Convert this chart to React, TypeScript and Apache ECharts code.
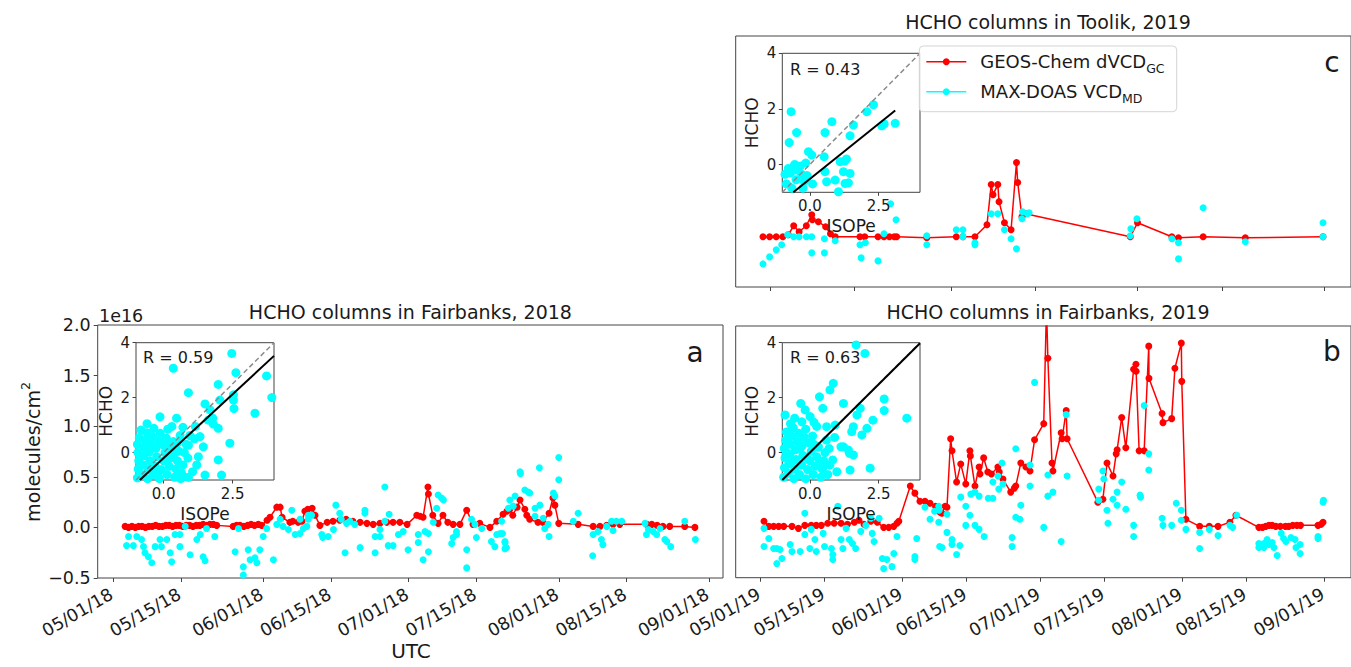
import React, { useEffect, useRef } from "react";
import * as echarts from "echarts";

// ---------------- DATA (days since May 1, values in 1e16 molecules/cm2) ----------------
const TICK_DAYS_AB = [0, 14, 31, 45, 61, 75, 92, 106, 123];
const TICK_LABELS_A = ["05/01/18", "05/15/18", "06/01/18", "06/15/18", "07/01/18", "07/15/18", "08/01/18", "08/15/18", "09/01/18"];
const TICK_LABELS_B = ["05/01/19", "05/15/19", "06/01/19", "06/15/19", "07/01/19", "07/15/19", "08/01/19", "08/15/19", "09/01/19"];
const TICK_DAYS_C = [31, 45, 61, 75, 92, 106, 123];
const INSET_X_TICKS = [0, 2.5];
const INSET_Y_TICKS = [0, 2, 4];

const TITLES = ["HCHO columns in Fairbanks, 2018", "HCHO columns in Fairbanks, 2019", "HCHO columns in Toolik, 2019"];
const PANEL_LETTERS = ["a", "b", "c"];
const R_LABELS = ["R = 0.59", "R = 0.63", "R = 0.43"];
const SERIES_NAMES = ["GEOS-Chem dVCD", "MAX-DOAS VCD"];
const SERIES_SUBS = ["GC", "MD"];

const RED_A = [[2.5,0.01],[3.2,0.0],[3.9,0.01],[4.6,0.0],[5.3,0.01],[6.0,0.01],[6.7,0.0],[7.4,0.01],[8.1,0.01],[8.8,0.02],[9.5,0.01],[10.2,0.01],[10.9,0.02],[11.6,0.02],[12.3,0.01],[13.0,0.02],[13.7,0.02],[14.4,0.01],[15.1,0.02],[15.8,0.02],[16.5,0.01],[17.2,0.02],[17.9,0.02],[18.6,0.03],[19.3,0.02],[20.0,0.03],[20.7,0.03],[21.4,0.02],[24.8,0.01],[25.5,0.02],[26.2,0.02],[27.0,0.01],[27.8,0.02],[28.5,0.03],[29.2,0.02],[30.0,0.03],[30.7,0.02],[31.8,0.07],[32.4,0.1],[33.8,0.2],[34.5,0.2],[34.9,0.1],[36.5,0.05],[37.1,0.06],[38.2,0.05],[39.0,0.06],[39.6,0.16],[40.2,0.18],[41.1,0.19],[41.7,0.12],[42.7,0.02],[44.2,0.05],[45.4,0.06],[46.8,0.07],[48.1,0.08],[49.5,0.06],[51.0,0.05],[52.4,0.04],[53.7,0.03],[55.1,0.04],[56.5,0.05],[57.8,0.05],[59.2,0.05],[60.7,0.03],[62.7,0.12],[63.4,0.11],[64.0,0.1],[65.0,0.4],[65.1,0.33],[66.0,0.12],[67.1,0.04],[68.1,0.12],[69.1,0.05],[70.2,0.03],[71.6,0.03],[73.0,0.17],[74.3,0.03],[75.7,0.04],[77.8,0.0],[79.2,0.06],[80.5,0.13],[81.3,0.16],[81.9,0.18],[82.5,0.12],[83.4,0.2],[84.0,0.27],[85.0,0.18],[85.4,0.12],[86.0,0.08],[87.7,0.05],[88.7,0.05],[90.0,0.14],[90.8,0.29],[91.2,0.22],[92.0,0.04],[96.0,0.03],[99.1,0.01],[100.5,0.01],[101.9,0.02],[103.2,0.03],[104.6,0.03],[110.2,0.03],[111.2,0.03],[112.3,0.02],[113.5,0.01],[114.9,0.01],[118.0,0.01],[120.1,0.0]];

const CYAN_A = [[3.2,-0.09],[4.9,-0.09],[2.8,-0.18],[4.2,-0.18],[5.9,-0.12],[6.3,-0.19],[6.6,-0.25],[7.3,-0.29],[8.0,-0.35],[8.7,-0.19],[9.7,-0.12],[10.0,-0.19],[11.1,-0.12],[11.8,-0.25],[12.1,-0.34],[12.8,-0.07],[13.8,-0.07],[13.8,-0.19],[14.9,0.01],[15.9,-0.27],[17.3,-0.12],[18.0,-0.07],[18.6,-0.29],[19.0,-0.33],[19.3,-0.01],[21.0,-0.09],[25.2,-0.24],[25.9,-0.01],[26.9,-0.39],[26.9,-0.47],[27.9,-0.22],[28.3,-0.32],[29.3,-0.3],[29.7,-0.35],[30.3,-0.22],[31.0,-0.09],[31.7,-0.01],[33.1,-0.32],[33.8,0.03],[34.5,0.08],[35.1,0.01],[36.2,-0.02],[36.9,0.17],[37.6,-0.07],[38.6,0.08],[39.3,-0.01],[40.3,0.08],[38.6,-0.06],[40.0,0.01],[40.3,0.12],[41.0,0.12],[43.1,-0.07],[43.3,-0.1],[44.4,-0.09],[45.5,-0.02],[46.0,0.22],[46.8,0.14],[47.1,0.08],[47.9,-0.25],[48.2,0.04],[48.9,0.06],[49.9,0.03],[51.0,-0.2],[52.0,0.17],[52.0,0.14],[54.1,-0.09],[54.1,-0.25],[55.1,-0.02],[55.1,-0.09],[56.1,0.4],[56.1,0.06],[56.8,-0.18],[57.0,0.13],[57.8,-0.18],[58.9,-0.07],[59.9,-0.04],[60.9,-0.22],[63.0,-0.07],[63.0,-0.15],[64.0,-0.32],[64.4,-0.04],[65.1,-0.06],[65.1,-0.24],[66.1,0.05],[66.8,0.19],[67.1,0.32],[67.8,0.29],[68.2,0.27],[69.9,-0.16],[70.2,-0.1],[70.9,-0.04],[70.9,-0.07],[73.0,-0.22],[73.0,-0.4],[74.0,0.08],[74.7,0.03],[75.0,-0.1],[76.1,-0.01],[78.1,-0.14],[78.8,-0.19],[79.2,-0.07],[79.9,-0.06],[80.2,0.06],[80.9,-0.14],[81.2,-0.2],[81.6,0.19],[80.4,-0.06],[80.9,-0.15],[80.9,-0.21],[81.9,0.27],[82.6,0.21],[83.0,0.31],[84.0,0.55],[84.1,0.53],[85.0,0.37],[85.7,0.35],[86.0,0.34],[87.1,0.19],[87.1,0.11],[88.0,0.59],[88.1,0.22],[88.8,0.09],[89.1,-0.01],[89.8,0.03],[90.0,-0.09],[90.9,0.34],[91.2,0.31],[92.0,0.47],[92.0,0.69],[95.0,0.06],[96.0,0.14],[99.1,-0.07],[99.0,-0.28],[100.1,-0.04],[100.8,-0.12],[101.1,-0.17],[101.9,0.01],[102.9,0.06],[103.2,-0.03],[103.9,0.06],[105.0,0.06],[109.8,0.04],[110.1,-0.07],[110.5,-0.02],[111.5,-0.04],[112.2,-0.07],[112.9,-0.01],[113.9,-0.12],[114.3,-0.14],[115.1,-0.19],[118.0,0.06],[120.2,-0.12]];

const RED_B = [[0.8,0.06],[1.85,0.01],[2.9,0.01],[4.0,0.01],[5.1,0.01],[6.9,0.01],[8.3,-0.01],[9.7,0.02],[11.1,0.02],[12.2,0.02],[13.3,0.02],[14.7,0.04],[16.1,0.04],[17.6,0.04],[19.0,0.03],[20.5,0.05],[21.5,0.07],[22.6,0.03],[24.1,0.06],[25.5,0.05],[26.9,0.0],[28.0,0.0],[29.1,0.01],[29.8,0.04],[30.2,0.06],[32.7,0.41],[33.7,0.34],[34.8,0.26],[35.9,0.26],[37.0,0.24],[38.2,0.21],[39.2,0.15],[39.6,0.14],[40.3,0.21],[40.7,0.2],[41.5,0.88],[41.8,0.76],[42.8,0.45],[43.7,0.63],[44.8,0.43],[45.7,0.76],[45.8,0.71],[46.8,0.41],[47.7,0.6],[47.9,0.53],[48.7,0.69],[49.6,0.55],[50.4,0.53],[51.8,0.6],[52.1,0.55],[52.9,0.48],[54.6,0.35],[55.4,0.39],[55.7,0.41],[56.8,0.64],[57.9,0.6],[58.8,0.56],[59.8,0.87],[61.8,1.03],[62.4,2.2],[62.7,1.68],[63.6,0.64],[63.8,0.56],[65.6,0.94],[65.8,0.88],[66.7,1.16],[66.9,0.88],[73.6,0.25],[74.7,0.28],[75.6,0.64],[76.9,0.51],[77.6,0.73],[77.8,0.77],[78.8,1.09],[79.7,0.79],[81.4,1.57],[81.9,1.62],[81.95,1.55],[82.6,0.76],[83.7,0.76],[84.7,1.8],[84.75,1.48],[87.6,1.13],[87.8,1.04],[89.7,1.08],[90.4,1.58],[91.8,1.83],[91.9,1.45],[92.8,0.08],[95.8,0.01],[97.9,0.01],[99.8,0.01],[102.4,0.05],[103.7,0.12],[108.7,0.0],[109.5,0.0],[110.2,0.01],[110.9,0.02],[111.6,0.02],[112.4,0.01],[113.4,0.01],[114.5,0.01],[115.2,0.01],[116.1,0.02],[117.0,0.02],[117.8,0.02],[121.6,0.02],[122.3,0.03],[122.7,0.05]];

const CYAN_B = [[0.8,-0.01],[0.8,-0.19],[1.85,-0.11],[2.9,-0.21],[3.6,-0.21],[4.3,-0.22],[3.6,-0.36],[4.7,-0.31],[6.5,-0.17],[6.9,-0.24],[8.7,-0.24],[9.7,0.14],[9.7,-0.07],[11.1,-0.02],[10.8,-0.21],[11.9,-0.12],[12.2,-0.24],[13.7,-0.06],[14.0,-0.19],[15.5,-0.21],[15.8,-0.27],[15.8,-0.32],[16.9,0.21],[17.6,-0.12],[18.0,-0.21],[18.7,-0.01],[19.4,-0.12],[20.1,-0.16],[20.8,-0.21],[21.9,-0.04],[23.0,0.02],[24.1,0.09],[24.4,-0.06],[24.8,-0.14],[25.9,0.09],[26.6,-0.31],[26.9,-0.41],[27.6,-0.32],[28.7,-0.39],[29.1,-0.26],[29.8,-0.09],[34.1,-0.11],[33.7,-0.29],[33.7,-0.32],[35.9,0.2],[37.0,0.08],[38.0,0.16],[39.0,0.17],[39.1,-0.19],[38.9,0.21],[38.9,0.05],[40.7,0.13],[40.7,-0.05],[41.8,-0.12],[39.6,-0.2],[41.8,-0.17],[42.8,-0.27],[43.5,-0.18],[43.7,0.3],[44.8,0.21],[44.8,0.02],[45.7,0.12],[45.9,0.33],[46.8,0.35],[46.8,0.02],[47.7,0.31],[47.7,-0.02],[48.8,-0.09],[49.7,0.29],[50.7,0.29],[50.7,0.45],[51.8,0.51],[52.0,0.38],[52.7,0.64],[52.9,0.43],[54.9,-0.1],[54.9,-0.19],[55.7,0.78],[55.7,0.1],[56.6,0.08],[56.8,0.22],[58.8,0.62],[58.8,0.41],[59.8,1.44],[61.8,0.0],[62.7,0.52],[62.7,0.31],[63.8,0.35],[65.6,-0.14],[66.7,1.12],[66.9,0.51],[73.8,0.38],[73.8,0.27],[74.7,0.56],[74.9,0.48],[75.6,0.17],[75.8,0.04],[76.9,0.28],[77.8,0.35],[77.8,0.22],[78.8,0.45],[79.7,0.18],[81.4,0.02],[81.4,-0.09],[83.7,1.21],[84.7,0.73],[84.7,0.57],[82.8,0.32],[82.9,0.3],[87.6,0.09],[87.8,0.02],[89.7,0.02],[90.7,0.24],[91.8,0.17],[91.8,0.07],[92.8,-0.02],[95.8,-0.05],[95.8,-0.21],[97.9,-0.02],[99.8,-0.08],[102.4,0.02],[103.0,0.0],[103.9,0.12],[108.7,-0.16],[108.7,-0.2],[109.8,-0.16],[109.8,-0.2],[110.5,-0.12],[110.9,-0.17],[111.6,-0.15],[112.0,-0.2],[112.7,-0.28],[113.6,-0.06],[114.1,-0.11],[114.6,-0.14],[115.7,-0.1],[116.6,-0.12],[116.8,-0.2],[117.7,-0.17],[117.7,-0.26],[121.6,-0.09],[121.6,-0.11],[122.7,0.25],[122.8,0.27]];

const RED_C = [[29.8,0.0],[30.9,0.0],[32.0,0.0],[33.1,0.0],[34.0,0.02],[34.9,0.11],[35.8,0.05],[37.0,0.11],[37.9,0.22],[38.0,0.17],[39.0,0.15],[40.2,0.1],[41.0,0.03],[41.8,0.0],[45.9,0.0],[46.7,0.0],[48.9,0.0],[49.9,0.0],[50.8,0.0],[51.6,0.0],[52.0,0.0],[57.0,-0.01],[61.9,0.0],[63.0,0.0],[65.0,0.0],[67.0,0.12],[67.7,0.52],[68.0,0.42],[68.8,0.52],[69.0,0.35],[69.9,0.14],[71.0,0.07],[71.9,0.74],[72.1,0.54],[72.8,0.2],[73.4,0.23],[90.8,0.0],[92.0,0.14],[97.7,0.0],[98.8,-0.01],[102.9,0.0],[109.9,-0.01],[122.8,0.0]];

const CYAN_C = [[29.8,-0.27],[30.9,-0.2],[32.0,-0.13],[32.9,-0.08],[33.9,0.02],[34.9,0.0],[35.8,0.0],[37.0,0.0],[37.9,0.0],[37.9,-0.16],[40.0,-0.02],[40.0,-0.16],[41.8,-0.04],[45.9,-0.08],[46.1,-0.21],[46.8,-0.06],[48.9,-0.24],[49.9,0.03],[51.0,0.33],[51.9,0.17],[57.0,0.01],[57.0,-0.08],[61.9,0.07],[63.0,0.07],[63.0,0.0],[65.0,-0.06],[65.0,-0.08],[67.7,0.23],[68.8,0.23],[69.9,0.07],[71.0,-0.02],[71.9,-0.12],[72.8,0.18],[72.9,0.25],[74.0,0.24],[73.7,0.23],[90.8,0.01],[90.9,0.08],[91.9,0.18],[97.7,-0.02],[98.8,-0.06],[98.8,-0.22],[102.9,0.29],[109.9,-0.05],[122.8,0.14],[122.8,0.0]];

// inset scatter: [ISOPe, HCHO]
const INSET_A = [[-0.95,-0.92],[-0.92,-0.6],[-0.9,-0.3],[-0.93,0.0],[-0.95,0.3],[-0.88,0.55],[-0.82,0.82],[-0.78,-0.8],[-0.75,-0.45],[-0.72,-0.12],[-0.7,0.18],[-0.66,0.45],[-0.6,0.72],[-0.58,-0.95],[-0.55,-0.62],[-0.5,-0.3],[-0.52,0.02],[-0.45,0.3],[-0.4,0.58],[-0.35,0.88],[-0.38,-0.8],[-0.3,-0.5],[-0.25,-0.15],[-0.28,0.15],[-0.18,0.42],[-0.12,0.7],[-0.15,-0.95],[-0.08,-0.62],[0.0,-0.3],[0.05,0.0],[-0.02,0.28],[0.1,0.52],[0.15,0.85],[0.12,-0.8],[0.2,-0.5],[0.25,-0.2],[0.3,0.1],[0.35,0.4],[0.4,-0.9],[0.45,-0.6],[0.5,-0.3],[0.55,0.05],[0.5,0.35],[0.6,0.62],[0.65,-0.75],[0.7,-0.45],[0.75,0.0],[0.82,0.3],[0.9,-0.9],[-0.6,1.05],[-0.13,1.3],[0.47,1.25],[0.3,0.95],[0.88,-0.2],[0.95,0.62],[0.7,0.92],[-0.85,-0.15],[-0.35,-0.68],[0.18,0.22],[-0.62,0.3],[-0.2,-0.85],[0.38,-0.05],[0.35,3.07],[0.9,2.18],[1.98,2.48],[2.47,3.61],[2.62,2.91],[3.73,2.79],[3.92,2.0],[3.31,1.43],[2.53,1.91],[2.53,2.1],[1.5,1.77],[1.68,1.55],[2.04,1.91],[1.62,1.18],[1.8,1.04],[1.98,0.88],[1.32,0.58],[1.44,0.21],[1.26,-0.15],[1.98,-0.27],[1.5,-0.82],[2.1,-0.82],[2.4,0.34],[0.9,0.27],[1.12,0.5],[1.2,-0.45],[1.05,-0.7],[0.62,-0.95],[1.78,1.25],[2.55,1.6],[1.15,0.95]];

const INSET_B = [[-0.95,-0.9],[-0.92,-0.55],[-0.9,-0.2],[-0.93,0.15],[-0.88,0.45],[-0.85,0.75],[-0.78,-0.75],[-0.75,-0.4],[-0.72,-0.05],[-0.7,0.3],[-0.65,0.6],[-0.6,0.9],[-0.58,-0.95],[-0.55,-0.6],[-0.5,-0.25],[-0.52,0.1],[-0.45,0.4],[-0.4,0.7],[-0.38,-0.8],[-0.3,-0.45],[-0.25,-0.1],[-0.28,0.25],[-0.2,0.55],[-0.15,0.85],[-0.15,-0.95],[-0.08,-0.62],[0.0,-0.3],[0.05,0.05],[-0.02,0.35],[0.1,0.6],[0.12,-0.8],[0.2,-0.5],[0.25,-0.15],[0.3,0.2],[0.4,-0.9],[0.45,-0.6],[0.5,-0.3],[0.55,0.0],[0.6,0.45],[0.65,-0.8],[0.7,0.15],[-0.85,0.0],[-0.6,-0.3],[-0.35,0.15],[0.15,0.3],[-0.1,-0.2],[0.35,-0.35],[-0.7,1.05],[0.25,0.95],[0.15,1.1],[-0.55,1.25],[0.9,0.55],[0.83,-0.27],[1.13,0.21],[1.44,-0.03],[1.68,3.92],[2.0,3.61],[0.85,2.52],[0.73,2.28],[0.35,2.03],[0.47,1.61],[-0.33,1.79],[-0.17,1.55],[0.01,1.31],[1.22,1.79],[1.83,1.61],[1.71,1.37],[2.7,1.95],[2.7,1.53],[3.52,1.25],[2.29,1.18],[2.07,0.88],[1.89,0.64],[1.58,0.94],[1.52,0.76],[0.92,1.0],[0.61,0.94],[1.22,0.21],[1.4,0.09],[1.58,-0.09],[1.46,-0.64],[2.19,-0.57],[0.98,-0.7],[0.73,-0.45],[0.49,-0.52],[0.31,0.21],[-0.29,1.12],[-0.78,0.76],[-0.9,1.37]];

const INSET_C = [[-0.68,1.9],[-0.75,0.79],[-0.48,1.15],[-0.78,-0.14],[-0.9,-0.35],[-0.7,-0.3],[-0.6,-0.1],[-0.55,0.0],[-0.45,-0.2],[-0.35,-0.05],[-0.3,-0.35],[-0.2,-0.6],[-0.15,0.05],[-0.5,-0.55],[-0.85,-0.7],[-0.65,-0.85],[-0.05,0.46],[0.07,0.34],[0.52,0.28],[0.55,1.15],[0.8,1.54],[1.46,1.03],[1.58,1.42],[2.07,1.9],[2.31,2.15],[2.61,1.39],[2.7,1.46],[3.1,1.48],[0.55,-0.26],[0.61,-0.62],[0.92,-0.56],[1.1,0.1],[1.26,0.12],[1.33,0.2],[1.22,-0.26],[1.46,-0.32],[1.28,-0.68],[1.4,-0.66],[1.04,-0.98],[-0.1,-0.4],[0.1,-0.7],[-0.25,-0.85]];

const ONE_TO_ONE = [[-1, -1], [4, 4]];
const FIT_A = [[-0.86, -1], [4, 3.52]];
const FIT_B = [[-1, -1], [4, 3.98]];
const FIT_C = [[-0.6, -1], [3.1, 1.94]];

// ---------------- STYLE ----------------
const FONT = '"DejaVu Sans", "Liberation Sans", sans-serif';
const TXT = "#1a1a1a";
const RED = "#ff0000";
const CYAN = "#00ffff";
const SPINE = "#444";

function measure(text: string, size: number): number {
  const c = document.createElement("canvas").getContext("2d");
  if (!c) return text.length * size * 0.6;
  c.font = `${size}px "DejaVu Sans"`;
  return c.measureText(text).width;
}

export default function App() {
  const ref = useRef<HTMLDivElement>(null);

  useEffect(() => {
    if (!ref.current) return;
    const chart = echarts.init(ref.current, null, { renderer: "svg" });

    const mainGrid = { show: true, borderColor: SPINE, borderWidth: 1, backgroundColor: "transparent", z: 1 };
    const insetGrid = { show: true, borderColor: SPINE, borderWidth: 1, backgroundColor: "#ffffff", z: 10 };

    const grids = [
      { left: 97.7, top: 325, width: 625.3, height: 253, ...mainGrid },
      { left: 735.7, top: 326, width: 624.3, height: 251.7, ...mainGrid },
      { left: 735.7, top: 36, width: 624.3, height: 251, ...mainGrid },
      { left: 136, top: 342.7, width: 138, height: 137.3, ...insetGrid },
      { left: 782.3, top: 342.7, width: 137.7, height: 137.3, ...insetGrid },
      { left: 782.3, top: 53.3, width: 137.7, height: 139, ...insetGrid },
    ];

    const mainX = (gi: number, min: number, max: number, ticks: number[]) => ({
      type: "value",
      gridIndex: gi,
      min,
      max,
      axisLine: { show: false, onZero: false },
      splitLine: { show: false },
      axisTick: { show: true, customValues: ticks, length: 4, lineStyle: { color: SPINE } },
      axisLabel: { show: false },
    });

    const insetX = (gi: number) => ({
      type: "value",
      gridIndex: gi,
      min: -1,
      max: 4,
      z: 12,
      axisLine: { show: false, onZero: false },
      splitLine: { show: false },
      axisTick: { show: true, customValues: INSET_X_TICKS, length: 3.5, lineStyle: { color: SPINE } },
      axisLabel: { show: true, customValues: INSET_X_TICKS, formatter: (v: number) => v.toFixed(1), fontSize: 15, color: TXT, fontFamily: FONT, margin: 6 },
      name: "ISOPe",
      nameLocation: "middle",
      nameGap: 25,
      nameTextStyle: { fontSize: 17, color: TXT, fontFamily: FONT },
    });
    const insetY = (gi: number) => ({
      type: "value",
      gridIndex: gi,
      min: -1,
      max: 4,
      z: 12,
      axisLine: { show: false, onZero: false },
      splitLine: { show: false },
      axisTick: { show: true, customValues: INSET_Y_TICKS, length: 3.5, lineStyle: { color: SPINE } },
      axisLabel: { show: true, customValues: INSET_Y_TICKS, formatter: (v: number) => String(v), fontSize: 15, color: TXT, fontFamily: FONT, margin: 6 },
      name: "HCHO",
      nameLocation: "middle",
      nameGap: 22,
      nameRotate: 90,
      nameTextStyle: { fontSize: 17, color: TXT, fontFamily: FONT },
    });

    const xAxes = [
      mainX(0, -3.16, 125.9, TICK_DAYS_AB),
      mainX(1, -5.37, 128.8, TICK_DAYS_AB),
      mainX(2, 25.27, 127.45, TICK_DAYS_C),
      insetX(3),
      insetX(4),
      insetX(5),
    ];
    const hiddenY = (gi: number) => ({
      type: "value", gridIndex: gi, min: -0.5, max: 2.0,
      axisLine: { show: false, onZero: false }, splitLine: { show: false }, axisTick: { show: false }, axisLabel: { show: false },
    });
    const yAxes = [
      {
        type: "value", gridIndex: 0, min: -0.5, max: 2.0, interval: 0.5,
        axisLine: { show: false, onZero: false }, splitLine: { show: false },
        axisTick: { show: true, length: 4, lineStyle: { color: SPINE } },
        axisLabel: { formatter: (v: number) => v.toFixed(1).replace("-", "\u2212"), fontSize: 17.5, color: TXT, fontFamily: FONT, margin: 7 },
      },
      hiddenY(1),
      hiddenY(2),
      insetY(3),
      insetY(4),
      insetY(5),
    ];

    const redLine = (i: number, data: number[][]) => ({
      type: "line", name: SERIES_NAMES[0], xAxisIndex: i, yAxisIndex: i, data,
      symbol: "circle", symbolSize: 7, clip: true,
      lineStyle: { color: RED, width: 1.5 }, itemStyle: { color: RED }, z: 3,
    });
    const cyanPts = (i: number, data: number[][]) => ({
      type: "scatter", name: SERIES_NAMES[1], xAxisIndex: i, yAxisIndex: i, data,
      symbolSize: 7, itemStyle: { color: CYAN, opacity: 1 }, z: 4,
    });
    const insetPts = (i: number, data: number[][]) => ({
      type: "scatter", xAxisIndex: i, yAxisIndex: i, data, symbolSize: 9, clip: true,
      itemStyle: { color: CYAN, opacity: 1 }, z: 12,
    });
    const refLine = (i: number, data: number[][]) => ({
      type: "line", xAxisIndex: i, yAxisIndex: i, data, symbol: "none", clip: true,
      lineStyle: { color: "#8c8c8c", width: 1.5, type: [5, 3] }, z: 13,
    });
    const fitLine = (i: number, data: number[][]) => ({
      type: "line", xAxisIndex: i, yAxisIndex: i, data, symbol: "none", clip: true,
      lineStyle: { color: "#000000", width: 2 }, z: 14,
    });

    const series = [
      redLine(0, RED_A), cyanPts(0, CYAN_A),
      redLine(1, RED_B), cyanPts(1, CYAN_B),
      redLine(2, RED_C), cyanPts(2, CYAN_C),
      insetPts(3, INSET_A), insetPts(4, INSET_B), insetPts(5, INSET_C),
      refLine(3, ONE_TO_ONE), refLine(4, ONE_TO_ONE), refLine(5, ONE_TO_ONE),
      fitLine(3, FIT_A), fitLine(4, FIT_B), fitLine(5, FIT_C),
    ];

    const txt = (text: string, x: number, y: number, size: number, align = "center", extra: any = {}) => ({
      type: "text", x, y, z: 100,
      style: { text, fontSize: size, fontFamily: FONT, fill: TXT, align, verticalAlign: "middle" },
      ...extra,
    });

    // y-axis name with superscript
    const yMain = "molecules/cm";
    const yMainW = measure(yMain, 19);
    const ySupW = measure("2", 12.5);
    const yTot = yMainW + ySupW;
    const yName = {
      type: "group", x: 33, y: 452, rotation: Math.PI / 2, z: 100,
      children: [
        { type: "text", x: -yTot / 2, y: 0, z: 100, style: { text: yMain, fontSize: 19, fontFamily: FONT, fill: TXT, align: "left", verticalAlign: "middle" } },
        { type: "text", x: -yTot / 2 + yMainW, y: -8, z: 100, style: { text: "2", fontSize: 12.5, fontFamily: FONT, fill: TXT, align: "left", verticalAlign: "middle" } },
      ],
    };

    // legend (matplotlib-style box)
    const legendRow = (i: number, color: string, y: number) => {
      const w = measure(SERIES_NAMES[i], 18);
      return [
        { type: "line", shape: { x1: 7, y1: y, x2: 47, y2: y }, style: { stroke: color, lineWidth: 1.5 }, z: 101 },
        { type: "circle", shape: { cx: 27, cy: y, r: 3.5 }, style: { fill: color }, z: 101 },
        { type: "text", x: 61, y, z: 101, style: { text: SERIES_NAMES[i], fontSize: 18, fontFamily: FONT, fill: TXT, align: "left", verticalAlign: "middle" } },
        { type: "text", x: 61 + w, y: y + 7, z: 101, style: { text: SERIES_SUBS[i], fontSize: 12.5, fontFamily: FONT, fill: TXT, align: "left", verticalAlign: "middle" } },
      ];
    };
    const legend = {
      type: "group", x: 919.3, y: 46, z: 100,
      children: [
        { type: "rect", shape: { x: 0, y: 0, width: 257.4, height: 65.7, r: 4 }, style: { fill: "rgba(255,255,255,0.85)", stroke: "#d4d4d4", lineWidth: 1 }, z: 100 },
        ...legendRow(0, RED, 15.7),
        ...legendRow(1, CYAN, 45.7),
      ],
    };

    const graphic: any[] = [
      txt(TITLES[0], 410.4, 312, 19),
      txt(TITLES[1], 1048, 312, 19),
      txt(TITLES[2], 1048, 22, 19),
      txt(PANEL_LETTERS[0], 695, 352, 28),
      txt(PANEL_LETTERS[1], 1332, 351, 28),
      txt(PANEL_LETTERS[2], 1332, 62, 28),
      txt("1e16", 99, 315.5, 17.5, "left"),
      txt("UTC", 411, 651, 20),
      txt(R_LABELS[0], 143, 357.5, 16, "left"),
      txt(R_LABELS[1], 790, 357.5, 16, "left"),
      txt(R_LABELS[2], 790, 69, 16, "left"),
      yName,
      legend,
    ];

    chart.setOption({
      animation: false,
      backgroundColor: "#ffffff",
      textStyle: { fontFamily: FONT },
      grid: grids,
      xAxis: xAxes,
      yAxis: yAxes,
      series,
      graphic,
    });

    // rotated date tick labels (matplotlib autofmt_xdate style), positioned through the axes' own scales
    const dateLabels: any[] = [];
    const addLabels = (gi: number, days: number[], labels: string[]) => {
      days.forEach((d, i) => {
        const p = chart.convertToPixel({ xAxisIndex: gi, yAxisIndex: gi }, [d, -0.5]) as number[];
        dateLabels.push({
          type: "text", x: p[0] - 6, y: p[1] + 7, rotation: Math.PI / 6, z: 100,
          style: { text: labels[i], fontSize: 17.5, fontFamily: FONT, fill: TXT, align: "right", verticalAlign: "top" },
        });
      });
    };
    addLabels(0, TICK_DAYS_AB, TICK_LABELS_A);
    addLabels(1, TICK_DAYS_AB, TICK_LABELS_B);
    chart.setOption({ graphic: [...graphic, ...dateLabels] });

    return () => chart.dispose();
  }, []);

  return <div ref={ref} style={{ position: "absolute", left: 0, top: 0, width: 1351, height: 667, background: "#fff" }} />;
}
